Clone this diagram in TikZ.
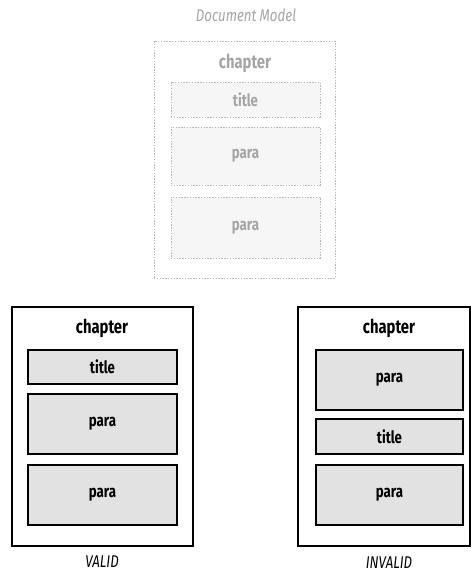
\documentclass[tikz,border=0pt]{standalone}
\usepackage{fontspec}
\setmainfont{Fira Sans}[FakeStretch=0.78]
\usepackage{xcolor}
\usetikzlibrary{positioning, fit}

\definecolor{modelgray}{RGB}{185,185,185}
\definecolor{modelfill}{RGB}{246,246,246}
\definecolor{modeltext}{RGB}{165,165,165}
\definecolor{elemfill}{RGB}{226,226,226}

\begin{document}
\begin{tikzpicture}[x=1pt, y=-1pt,
  outer/.style={draw, line width=1.6pt, fill=white, minimum width=181pt, minimum height=239pt, inner sep=0pt},
  elem/.style={draw, line width=1.6pt, fill=elemfill, minimum width=149pt, inner sep=0pt, font=\bfseries\fontsize{17}{19}\selectfont},
  tag/.style={font=\bfseries\fontsize{19}{21}\selectfont},
  caption/.style={font=\itshape\fontsize{17}{19}\selectfont},
  model/.style={draw=modelgray, dash pattern=on 1.4pt off 1.4pt, line width=1pt, text=modeltext}]
  \useasboundingbox (0,0) rectangle (471,574);

  % document model
  \node[caption, text=modeltext] (modelcap) at (246,15) {Document Model};
  \node[outer, model, fill=white, minimum height=237pt] (mchapter) at (244.5,159.5) {};
  \node[tag, text=modeltext] (mchaptag) at (245,63) {chapter};
  \node[elem, model, fill=modelfill, minimum height=35pt] (mtitle) at (245.5,99.5) {title};
  \node[elem, model, fill=modelfill, minimum height=58pt] (mpara1) at (245.5,156) {para};
  \node[elem, model, fill=modelfill, minimum height=61pt] (mpara2) at (245.5,227.5) {para};

  % valid instance
  \node[outer] (vchapter) at (102.5,426.5) {};
  \node[tag] (vchaptag) at (102,328) {chapter};
  \node[elem, minimum height=34pt] (vtitle) at (102.5,367) {title};
  \node[elem, minimum height=60pt] (vpara1) at (102.5,424) {para};
  \node[elem, minimum height=60pt] (vpara2) at (102.5,495) {para};
  \node[caption] (vcap) at (102,562) {VALID};

  % invalid instance
  \node[outer, minimum width=172pt] (ichapter) at (384,426.5) {};
  \node[tag] (ichaptag) at (389,328) {chapter};
  \node[elem, minimum width=147pt, minimum height=60pt] (ipara1) at (389.5,380) {para};
  \node[elem, minimum width=147pt, minimum height=35pt] (ititle) at (389.5,436.5) {title};
  \node[elem, minimum width=147pt, minimum height=60pt] (ipara2) at (389.5,495) {para};
  \node[caption] (icap) at (389,563) {INVALID};
\end{tikzpicture}
\end{document}
